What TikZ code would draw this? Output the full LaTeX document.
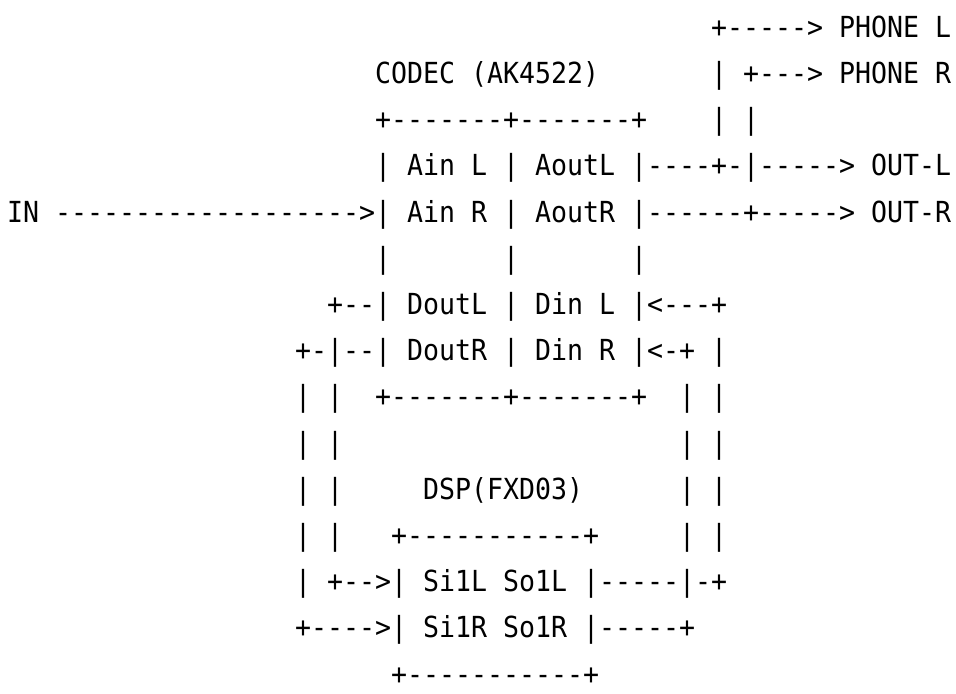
\documentclass[tikz,border=0pt]{standalone}
\usepackage{fontspec}
\usepackage{tikz}
\newfontfamily\asciifont[FakeStretch=0.9165,Ligatures=TeXOff]{DejaVu Sans Mono}
\tikzset{ascii/.style={anchor=base west, inner sep=0pt, outer sep=0pt, font=\asciifont\fontsize{14.5pt}{17pt}\selectfont}}

\begin{document}
\begin{tikzpicture}[x=8pt,y=-23.1pt]
\useasboundingbox (0,0) rectangle (59.75,15);
\begin{scope}[shift={(0.4375,-0.195)}]
% codec and phone outputs
\node (phoneL) [ascii] at (44,1) {+-----> PHONE L};
\node (codecname) [ascii] at (23,2) {CODEC (AK4522)};
\node (phoneR) [ascii] at (44,2) {| +---> PHONE R};
\node (codectop) [ascii] at (23,3) {+-------+-------+};
\node (phonebars) [ascii] at (44,3) {| |};
\node (ainL) [ascii] at (23,4) {| Ain L | AoutL |----+-|-----> OUT-L};
\node (ainR) [ascii] at (0,5) {IN ------------------->| Ain R | AoutR |------+-----> OUT-R};
\node (codecmid1) [ascii] at (23,6) {|};
\node (codecmid2) [ascii] at (31,6) {|};
\node (codecmid3) [ascii] at (39,6) {|};
\node (doutL) [ascii] at (20,7) {+--| DoutL | Din L |<---+};
\node (doutR) [ascii] at (18,8) {+-|--| DoutR | Din R |<-+ |};
\node (leftbars9) [ascii] at (18,9) {| |};
\node (codecbot) [ascii] at (23,9) {+-------+-------+};
\node (rightbars9) [ascii] at (42,9) {| |};
\node (leftbars10) [ascii] at (18,10) {| |};
\node (rightbars10) [ascii] at (42,10) {| |};
% dsp
\node (leftbars11) [ascii] at (18,11) {| |};
\node (dspname) [ascii] at (26,11) {DSP(FXD03)};
\node (rightbars11) [ascii] at (42,11) {| |};
\node (leftbars12) [ascii] at (18,12) {| |};
\node (dsptop) [ascii] at (24,12) {+-----------+};
\node (rightbars12) [ascii] at (42,12) {| |};
\node (siL) [ascii] at (18,13) {| +-->| Si1L So1L |-----|-+};
\node (siR) [ascii] at (18,14) {+---->| Si1R So1R |-----+};
\node (dspbot) [ascii] at (24,15) {+-----------+};
\end{scope}
\end{tikzpicture}
\end{document}
